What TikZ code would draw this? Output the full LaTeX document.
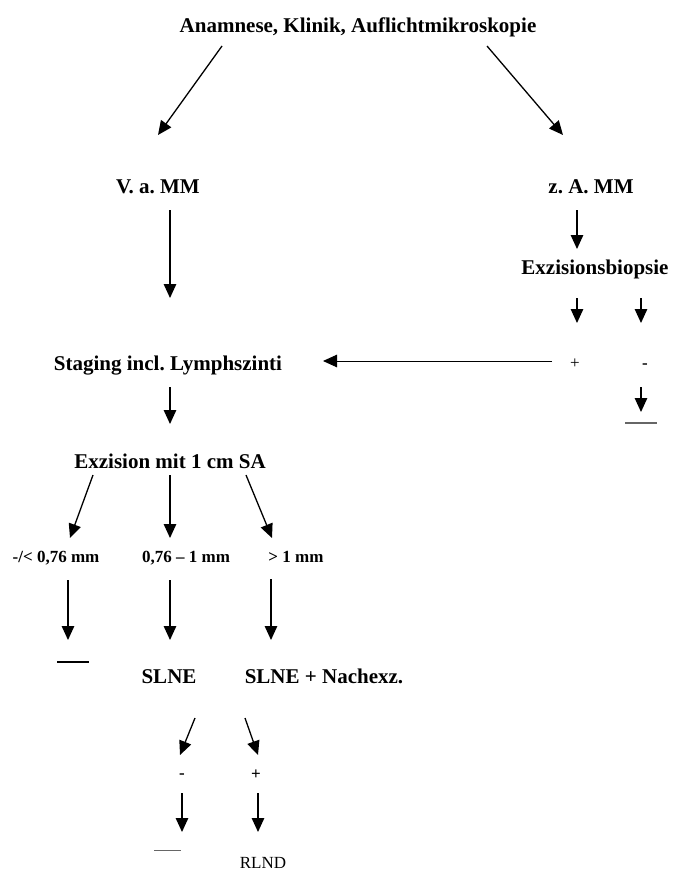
\documentclass[tikz,border=0pt]{standalone}
\usepackage{fontspec}
\setmainfont{Liberation Serif}
\usetikzlibrary{arrows.meta}
\begin{document}
\frenchspacing
\begin{tikzpicture}[x=1pt,y=-1pt,
  arr/.style={line width=1.3pt,-{Triangle[length=14pt,width=12.5pt]}},
  big/.style={font=\fontsize{21}{24}\selectfont\bfseries,inner sep=0pt,anchor=base},
  mid/.style={font=\fontsize{17}{20}\selectfont\bfseries,inner sep=0pt,anchor=base},
  reg/.style={font=\fontsize{17}{20}\selectfont,inner sep=0pt,anchor=base},
  bar/.style={line width=1.5pt},
  gbar/.style={line width=1.2pt,draw=black!60}]
\useasboundingbox (0,0) rectangle (673,870);
% texts
\node[big] (title) at (358,32) {Anamnese, Klinik, Auflichtmikroskopie};
\node[big] (vam) at (158,193) {V. a. MM};
\node[big] (zam) at (591,193) {z. A. MM};
\node[big] (exb) at (595,274) {Exzisionsbiopsie};
\node[reg] (plus1) at (575,368) {+};
\node[mid] (minus1) at (645,368) {-};
\node[big] (stag) at (168,370) {Staging incl. Lymphszinti};
\node[big] (exz) at (170,468) {Exzision mit 1 cm SA};
\node[mid] (l1) at (56,562) {-/< 0,76 mm};
\node[mid] (l2) at (186,562) {0,76 -- 1 mm};
\node[mid] (l3) at (296,562) {> 1 mm};
\node[big] (slne) at (169,683) {SLNE};
\node[big] (slnen) at (324,683) {SLNE + Nachexz.};
\node[mid] (minus2) at (182,778) {-};
\node[mid] (plus2) at (256,779) {+};
\node[reg] (rlnd) at (263,868) {RLND};
% connector end points
\coordinate (a1s) at (222,46);  \coordinate (a1e) at (158,135);
\coordinate (a2s) at (487,46);  \coordinate (a2e) at (563,135);
\coordinate (a3s) at (170,210); \coordinate (a3e) at (170,298);
\coordinate (a4s) at (577,210); \coordinate (a4e) at (577,249);
\coordinate (a5s) at (577,298); \coordinate (a5e) at (577,323);
\coordinate (a6s) at (641,298); \coordinate (a6e) at (641,323);
\coordinate (a7s) at (552,361); \coordinate (a7e) at (323,361);
\coordinate (a8s) at (641,387); \coordinate (a8e) at (641,412);
\coordinate (a9s) at (170,387); \coordinate (a9e) at (170,424);
\coordinate (b1s) at (93,475);  \coordinate (b1e) at (70,538);
\coordinate (b2s) at (170,475); \coordinate (b2e) at (170,538);
\coordinate (b3s) at (246,475); \coordinate (b3e) at (272,538);
\coordinate (c1s) at (68,580);  \coordinate (c1e) at (68,640);
\coordinate (c2s) at (170,580); \coordinate (c2e) at (170,640);
\coordinate (c3s) at (271,579); \coordinate (c3e) at (271,640);
\coordinate (d1s) at (195,718); \coordinate (d1e) at (180,755);
\coordinate (d2s) at (245,718); \coordinate (d2e) at (258,755);
\coordinate (e1s) at (182,793); \coordinate (e1e) at (182,832);
\coordinate (e2s) at (258,793); \coordinate (e2e) at (258,832);
\coordinate (r1) at (625,423); \coordinate (r2) at (657,423);
\coordinate (s1) at (57,662);  \coordinate (s2) at (89,662);
\coordinate (t1) at (154,850); \coordinate (t2) at (181,850);
% connectors
\foreach \p in {a1,a2,a3,a4,a5,a6,a8,a9,b1,b2,b3,c1,c2,c3,d1,d2,e1,e2}
  \draw[arr] (\p s) -- (\p e);
\draw[arr,line width=1pt] (a7s) -- (a7e);
\draw[gbar] (r1) -- (r2);
\draw[bar] (s1) -- (s2);
\draw[gbar,line width=0.8pt] (t1) -- (t2);
\end{tikzpicture}
\end{document}
